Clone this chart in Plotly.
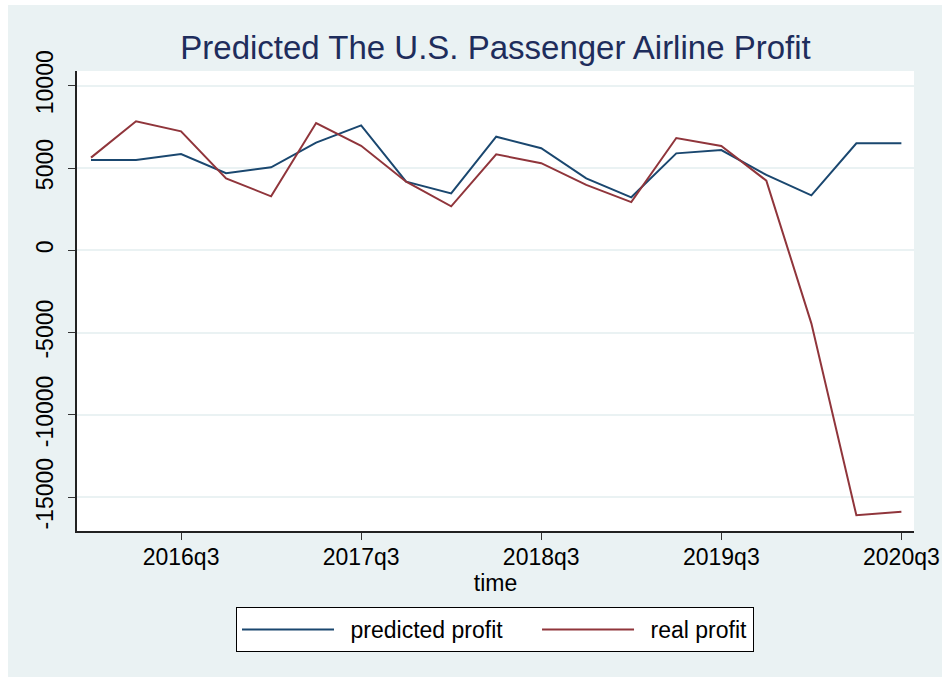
import plotly.graph_objects as go

quarters = ["2016q1", "2016q2", "2016q3", "2016q4",
            "2017q1", "2017q2", "2017q3", "2017q4",
            "2018q1", "2018q2", "2018q3", "2018q4",
            "2019q1", "2019q2", "2019q3", "2019q4",
            "2020q1", "2020q2", "2020q3"]

predicted_profit = [5490, 5490, 5850, 4680, 5040, 6540, 7590, 4170, 3460,
                    6900, 6200, 4370, 3220, 5890, 6090, 4580, 3340, 6500, 6500]

real_profit = [5630, 7840, 7230, 4370, 3280, 7730, 6350, 4170, 2670,
               5830, 5290, 3970, 2930, 6820, 6340, 4230, -4440, -16100, -15880]

x_ticks = ["2016q3", "2017q3", "2018q3", "2019q3", "2020q3"]
y_ticks = [-15000, -10000, -5000, 0, 5000, 10000]
y_tick_text = ["-15000", "-10000", "-5000", "0", "5000", "10000"]

BG = "#EAF2F3"
FONT = "Liberation Sans, Arial, sans-serif"

# en/em spaces only widen the legend entries (Stata-like spacing)
fig = go.Figure()
fig.add_trace(go.Scatter(x=quarters, y=predicted_profit, mode="lines",
                         name="\u2002predicted profit\u2003\u00a0",
                         line=dict(color="#1A476F", width=2)))
fig.add_trace(go.Scatter(x=quarters, y=real_profit, mode="lines",
                         name="\u2002real profit",
                         line=dict(color="#90353B", width=2)))

W, H = 942, 677
L, R, T, B = 77, 28, 71, 146
pw, ph = W - L - R, H - T - B

def px_x(p):
    return (p - L) / pw

def px_y(p):
    return (H - B - p) / ph

fig.update_layout(
    width=W, height=H,
    margin=dict(l=L, r=R, t=T, b=B, autoexpand=False),
    paper_bgcolor=BG,
    plot_bgcolor="white",
    font=dict(family=FONT, size=23, color="black"),
    title=dict(text="Predicted The U.S. Passenger Airline Profit",
               x=0.5, xref="paper", xanchor="center",
               y=(H - 47) / H, yref="container", yanchor="middle",
               font=dict(size=33, color="#1E2D5C", family=FONT)),
    showlegend=True,
    legend=dict(orientation="h", x=px_x(236), xanchor="left",
                y=px_y(607), yanchor="top",
                bgcolor="white", bordercolor="black", borderwidth=1,
                font=dict(size=23, family=FONT),
                itemwidth=92),
    shapes=[
        dict(type="rect", xref="paper", yref="paper", layer="below",
             x0=px_x(-5), x1=px_x(8), y0=px_y(H + 5), y1=px_y(-5),
             fillcolor="white", line=dict(width=0)),
        dict(type="rect", xref="paper", yref="paper", layer="below",
             x0=px_x(-5), x1=px_x(W + 5), y0=px_y(5), y1=px_y(-5),
             fillcolor="white", line=dict(width=0)),
    ],
)

fig.update_xaxes(
    type="category",
    range=[-0.311, 18.28],
    tickmode="array", tickvals=x_ticks, ticktext=x_ticks,
    ticks="outside", ticklen=7, tickwidth=1, tickcolor="#333333",
    ticklabelstandoff=-2,
    showline=True, linecolor="#222222", linewidth=1.5,
    showgrid=False, zeroline=False, automargin=False,
    title=dict(text="time", standoff=0, font=dict(size=23)),
)

fig.update_yaxes(
    range=[-17054, 10893],
    tickmode="array", tickvals=y_ticks, ticktext=y_tick_text,
    tickangle=-90,
    ticks="outside", ticklen=7, tickwidth=1, tickcolor="#333333",
    ticklabelstandoff=6,
    showline=True, linecolor="#222222", linewidth=1.5,
    showgrid=True, gridcolor=BG, gridwidth=2,
    zeroline=False, automargin=False,
)

fig.write_html("out.html",
               config={"displayModeBar": False},
               post_script="document.body.style.margin='0';"
                           "document.body.style.overflow='hidden';")
